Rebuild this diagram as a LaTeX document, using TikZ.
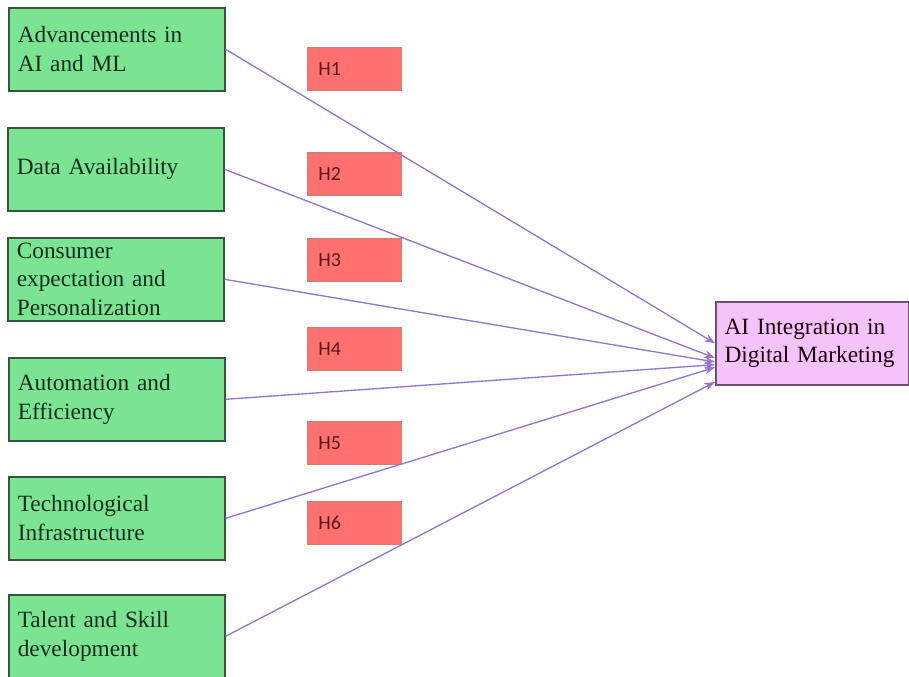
\documentclass[tikz,border=0pt]{standalone}
\usepackage{fontspec}
\setmainfont{Liberation Serif}
\newfontfamily\hfont{Carlito}
\usetikzlibrary{arrows.meta}
\hyphenpenalty=10000
\exhyphenpenalty=10000
\definecolor{boxgreen}{RGB}{122,228,147}
\definecolor{boxgreenline}{RGB}{55,85,60}
\definecolor{hred}{RGB}{255,112,112}
\definecolor{hredline}{RGB}{200,130,110}
\definecolor{tpink}{RGB}{243,195,250}
\definecolor{tpinkline}{RGB}{110,80,115}
\definecolor{arrowpurple}{RGB}{150,118,205}
\definecolor{gtext}{RGB}{25,45,30}
\definecolor{htext}{RGB}{90,25,25}
\begin{document}
\begin{tikzpicture}[x=0.75pt,y=-0.75pt,
  factor/.style={draw=boxgreenline, line width=1.2pt, fill=boxgreen, anchor=north west,
    text width=148.5pt, inner xsep=6.75pt, inner ysep=0pt, align=left,
    minimum width=162pt, minimum height=62.25pt, text=gtext,
    font=\fontsize{17.5}{21.5}\selectfont},
  hyp/.style={draw=hredline, line width=0.5pt, fill=hred, anchor=north west,
    text width=54pt, inner xsep=8.25pt, inner ysep=0pt, align=left,
    minimum width=70.5pt, minimum height=32.25pt, text=htext,
    font=\hfont\fontsize{15}{17}\selectfont},
  target/.style={draw=tpinkline, line width=1.2pt, fill=tpink, anchor=north west,
    text width=131.5pt, inner xsep=6.6pt, inner ysep=0pt, align=left,
    minimum width=144.75pt, minimum height=62.25pt, text=black!85!purple,
    font=\fontsize{17.5}{21.5}\selectfont},
  link/.style={draw=arrowpurple, line width=1pt, -{Stealth[length=8pt,width=6pt]}}]
\useasboundingbox (0,0) rectangle (909,676);
\fill[white] (0,0) rectangle (909,676);

\node[factor] (b1) at (8,7)   {Advancements in\\AI and ML};
\node[factor] (b2) at (7,127) {Data Availability};
\node[factor] (b3) at (7,237) {Consumer\\expectation and\\Personalization};
\node[factor] (b4) at (8,357) {Automation and\\Efficiency};
\node[factor] (b5) at (8,476) {Technological\\Infrastructure};
\node[factor] (b6) at (8,594) {Talent and Skill\\development};

\node[hyp] (h1) at (307,47)  {H1};
\node[hyp] (h2) at (307,152) {H2};
\node[hyp] (h3) at (307,238) {H3};
\node[hyp] (h4) at (307,327) {H4};
\node[hyp] (h5) at (307,421) {H5};
\node[hyp] (h6) at (307,501) {H6};

\node[target] (t) at (715,301) {AI Integration in\\Digital Marketing};

\draw[link] (b1.east) -- ([yshift=0pt]t.west);
\draw[link] (b2.east) -- ([yshift=-11pt]t.west);
\draw[link] (b3.east) -- ([yshift=-14pt]t.west);
\draw[link] (b4.east) -- ([yshift=-16pt]t.west);
\draw[link] (b5.east) -- ([yshift=-18pt]t.west);
\draw[link] (b6.east) -- ([yshift=-29pt]t.west);
\end{tikzpicture}
\end{document}
